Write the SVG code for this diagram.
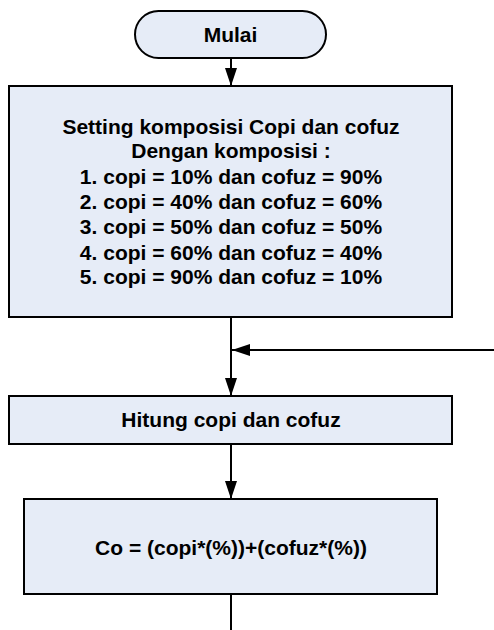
<svg xmlns="http://www.w3.org/2000/svg" width="494" height="630" viewBox="0 0 494 630">
<defs>
<style>
.box{fill:#E6ECF7;stroke:#000;stroke-width:2}
.t{font-family:"Liberation Sans",Arial,sans-serif;font-weight:bold;font-size:21px;fill:#000;text-anchor:middle}
.ln{stroke:#000;stroke-width:2;fill:none}
</style>
<marker id="ah" markerWidth="18" markerHeight="12" refX="18" refY="6" orient="auto" markerUnits="userSpaceOnUse">
<path d="M0,0 L18,6 L0,12 Z" fill="#000"/>
</marker>
</defs>
<rect width="494" height="630" fill="#fff"/>
<g id="connectors">
<line class="ln" x1="231" y1="58" x2="231" y2="86" marker-end="url(#ah)"/>
<line class="ln" x1="231" y1="317" x2="231" y2="396" marker-end="url(#ah)"/>
<line class="ln" x1="494" y1="350" x2="232" y2="350" marker-end="url(#ah)"/>
<line class="ln" x1="231" y1="444" x2="231" y2="499" marker-end="url(#ah)"/>
<line class="ln" x1="231" y1="594" x2="231" y2="630"/>
</g>
<g id="mulai">
<rect class="box" x="135" y="11" width="191" height="47" rx="23.5" ry="23.5"/>
<text class="t" x="230.5" y="42">Mulai</text>
</g>
<g id="setting">
<rect class="box" x="9" y="86" width="443" height="231"/>
<text class="t" x="231" y="134">Setting komposisi Copi dan cofuz</text>
<text class="t" x="231" y="158">Dengan komposisi :</text>
<text class="t" x="231" y="184">1. copi = 10% dan cofuz = 90%</text>
<text class="t" x="231" y="209">2. copi = 40% dan cofuz = 60%</text>
<text class="t" x="231" y="234">3. copi = 50% dan cofuz = 50%</text>
<text class="t" x="231" y="260">4. copi = 60% dan cofuz = 40%</text>
<text class="t" x="231" y="284">5. copi = 90% dan cofuz = 10%</text>
</g>
<g id="hitung">
<rect class="box" x="9" y="396" width="443" height="48"/>
<text class="t" x="231" y="427">Hitung copi dan cofuz</text>
</g>
<g id="co">
<rect class="box" x="24" y="499" width="413" height="95"/>
<text class="t" x="231" y="555">Co = (copi*(%))+(cofuz*(%))</text>
</g>
</svg>
